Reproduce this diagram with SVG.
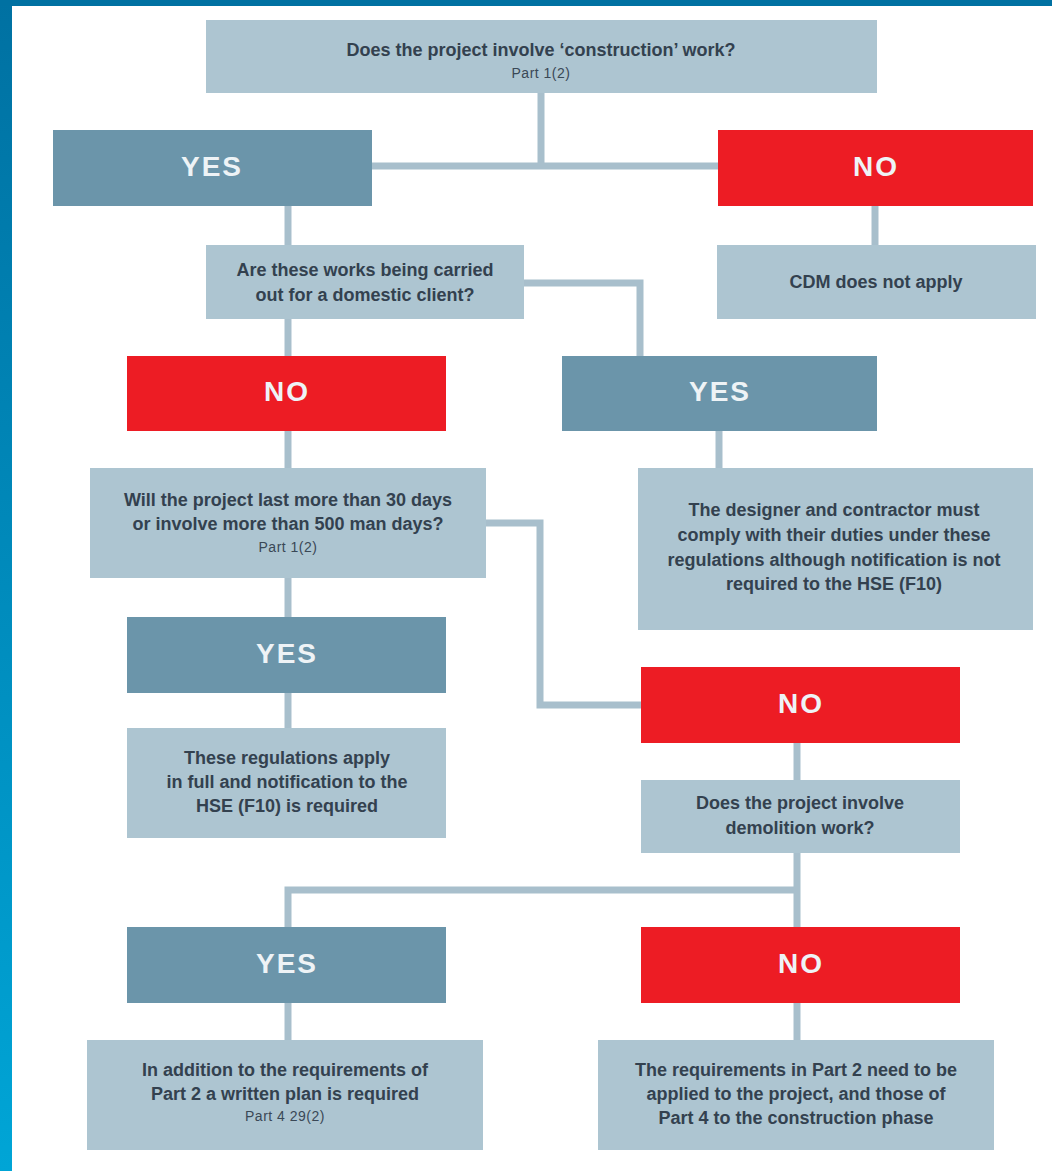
<svg xmlns="http://www.w3.org/2000/svg" width="1052" height="1171" viewBox="0 0 1052 1171">
<defs>
<linearGradient id="edge" x1="0" y1="0" x2="0" y2="1">
<stop offset="0" stop-color="#0071a2"/>
<stop offset="1" stop-color="#00a5d6"/>
</linearGradient>
<style>
.q{fill:#adc5d1}
.y{fill:#6b95aa}
.n{fill:#ed1c24}
.t{font-family:"Liberation Sans",Arial,sans-serif;font-size:18px;font-weight:bold;fill:#33414f;text-anchor:middle}
.s{font-family:"Liberation Sans",Arial,sans-serif;font-size:14px;fill:#3a4856;text-anchor:middle;letter-spacing:0.5px}
.b{font-family:"Liberation Sans",Arial,sans-serif;font-size:28px;font-weight:bold;fill:#eef3f6;text-anchor:middle;letter-spacing:2px}
.c{fill:none;stroke:#a8bfcc;stroke-width:7}
</style>
</defs>
<rect x="0" y="0" width="1052" height="1171" fill="#ffffff"/>
<rect x="0" y="0" width="12" height="1171" fill="url(#edge)"/>
<rect x="0" y="0" width="1052" height="6" fill="#0071a2"/>

<g id="connectors">
<path class="c" d="M541 93 V166 M372 166 H718"/>
<path class="c" d="M875 206 V245"/>
<path class="c" d="M288 206 V245"/>
<path class="c" d="M524 283 H640 V356"/>
<path class="c" d="M288 319 V356"/>
<path class="c" d="M719 431 V468"/>
<path class="c" d="M288 431 V468"/>
<path class="c" d="M486 523 H540 V705 H641"/>
<path class="c" d="M288 578 V617"/>
<path class="c" d="M288 693 V728"/>
<path class="c" d="M797 743 V780"/>
<path class="c" d="M797 853 V927 M797 890 H288 V927"/>
<path class="c" d="M288 1003 V1040"/>
<path class="c" d="M797 1003 V1040"/>
</g>

<g id="q1">
<rect class="q" x="206" y="20" width="671" height="73"/>
<text class="t" x="541" y="56">Does the project involve ‘construction’ work?</text>
<text class="s" x="541" y="78">Part 1(2)</text>
</g>
<g id="yes1">
<rect class="y" x="53" y="130" width="319" height="76"/>
<text class="b" x="212" y="176">YES</text>
</g>
<g id="no1">
<rect class="n" x="718" y="130" width="315" height="76"/>
<text class="b" x="876" y="176">NO</text>
</g>
<g id="cdm">
<rect class="q" x="717" y="245" width="319" height="74"/>
<text class="t" x="876" y="288">CDM does not apply</text>
</g>
<g id="q2">
<rect class="q" x="206" y="245" width="318" height="74"/>
<text class="t" x="365" y="276">Are these works being carried</text>
<text class="t" x="365" y="301">out for a domestic client?</text>
</g>
<g id="no2">
<rect class="n" x="127" y="356" width="319" height="75"/>
<text class="b" x="287" y="401">NO</text>
</g>
<g id="yes2">
<rect class="y" x="562" y="356" width="315" height="75"/>
<text class="b" x="720" y="401">YES</text>
</g>
<g id="designer">
<rect class="q" x="638" y="468" width="395" height="162"/>
<text class="t" x="834" y="516">The designer and contractor must</text>
<text class="t" x="834" y="541">comply with their duties under these</text>
<text class="t" x="834" y="566">regulations although notification is not</text>
<text class="t" x="834" y="590">required to the HSE (F10)</text>
</g>
<g id="q3">
<rect class="q" x="90" y="468" width="396" height="110"/>
<text class="t" x="288" y="506">Will the project last more than 30 days</text>
<text class="t" x="288" y="530">or involve more than 500 man days?</text>
<text class="s" x="288" y="552">Part 1(2)</text>
</g>
<g id="yes3">
<rect class="y" x="127" y="617" width="319" height="76"/>
<text class="b" x="287" y="663">YES</text>
</g>
<g id="regs">
<rect class="q" x="127" y="728" width="319" height="110"/>
<text class="t" x="287" y="764">These regulations apply</text>
<text class="t" x="287" y="788">in full and notification to the</text>
<text class="t" x="287" y="812">HSE (F10) is required</text>
</g>
<g id="no3">
<rect class="n" x="641" y="667" width="319" height="76"/>
<text class="b" x="801" y="713">NO</text>
</g>
<g id="q4">
<rect class="q" x="641" y="780" width="319" height="73"/>
<text class="t" x="800" y="809">Does the project involve</text>
<text class="t" x="800" y="834">demolition work?</text>
</g>
<g id="yes4">
<rect class="y" x="127" y="927" width="319" height="76"/>
<text class="b" x="287" y="973">YES</text>
</g>
<g id="no4">
<rect class="n" x="641" y="927" width="319" height="76"/>
<text class="b" x="801" y="973">NO</text>
</g>
<g id="written">
<rect class="q" x="87" y="1040" width="396" height="110"/>
<text class="t" x="285" y="1076">In addition to the requirements of</text>
<text class="t" x="285" y="1100">Part 2 a written plan is required</text>
<text class="s" x="285" y="1121">Part 4 29(2)</text>
</g>
<g id="part2">
<rect class="q" x="598" y="1040" width="396" height="110"/>
<text class="t" x="796" y="1076">The requirements in Part 2 need to be</text>
<text class="t" x="796" y="1100">applied to the project, and those of</text>
<text class="t" x="796" y="1124">Part 4 to the construction phase</text>
</g>
</svg>
